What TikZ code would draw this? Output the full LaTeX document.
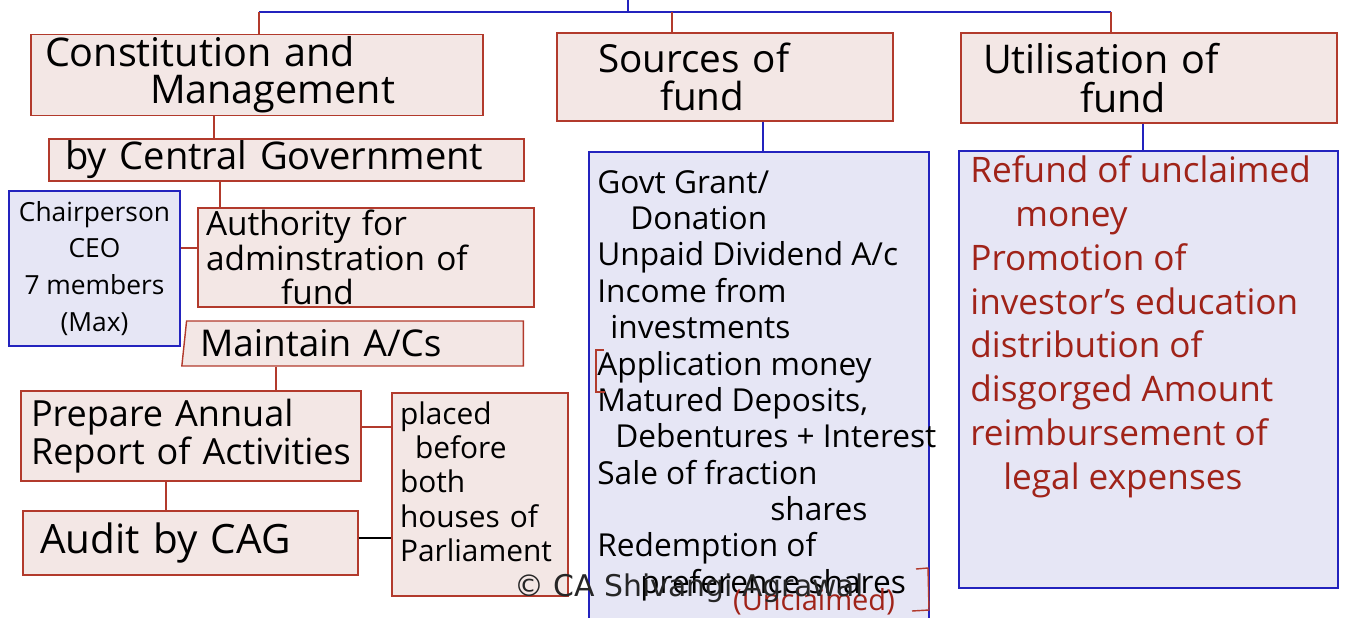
\documentclass[tikz,border=0pt]{standalone}
\usepackage{fontspec}
\usepackage{tikz}
\usepackage{xcolor}
\usetikzlibrary{positioning,shapes.geometric}
\setmainfont{Open Sans}
\newfontfamily\markfont{DejaVu Sans}
\definecolor{boxred}{RGB}{178,58,44}
\definecolor{boxpink}{RGB}{243,231,229}
\definecolor{deepblue}{RGB}{35,35,190}
\definecolor{boxlav}{RGB}{230,230,245}
\definecolor{inkred}{RGB}{160,35,25}

\begin{document}
\begin{tikzpicture}[x=0.02cm,y=-0.02cm,every node/.style={inner sep=0pt},
  pinkbox/.style={draw=boxred,fill=boxpink,line width=0.8pt},
  lavbox/.style={draw=deepblue,fill=boxlav,line width=0.8pt},
  redln/.style={draw=boxred,line width=0.8pt},
  blueln/.style={draw=deepblue,line width=0.8pt}]
\useasboundingbox (0,0) rectangle (1349,618);

\node[pinkbox,minimum width=9.04cm,minimum height=1.62cm,text width=8.48cm,align=left,font=\fontsize{22.5}{21}\selectfont] (cons) at (257,75) {Constitution and\\\hspace*{2.1cm}Management};
\node[pinkbox,minimum width=9.5cm,minimum height=0.84cm,text width=8.86cm,align=left,font=\fontsize{21.7}{22}\selectfont] (cent) at (286.5,160) {by Central Government};
\node[lavbox,minimum width=3.42cm,minimum height=3.1cm,align=center,font=\fontsize{15}{21}\selectfont] (chair) at (94.5,268.5) {Chairperson\\CEO\\7 members\\(Max)};
\node[pinkbox,minimum width=6.72cm,minimum height=1.98cm,text width=6.4cm,align=left,font=\fontsize{19}{19.5}\selectfont] (auth) at (366,257.5) {Authority for\\adminstration of\\\hspace*{1.5cm}fund};
\node[pinkbox,shape=trapezium,trapezium left angle=81,trapezium right angle=90,trapezium stretches=true,minimum width=6.84cm,minimum height=0.9cm,text width=6.2cm,align=left,font=\fontsize{21}{22}\selectfont] (maint) at (355,343.5) {Maintain A/Cs};
\node[pinkbox,minimum width=6.8cm,minimum height=1.8cm,text width=6.4cm,align=left,font=\fontsize{20.5}{21.5}\selectfont] (prep) at (191,436) {Prepare Annual\\Report of Activities};
\node[pinkbox,minimum width=6.7cm,minimum height=1.28cm,text width=6.02cm,align=left,font=\fontsize{23}{22}\selectfont] (audit) at (190.5,543) {Audit by CAG};
\node[pinkbox,minimum width=3.52cm,minimum height=4.06cm,text width=3.2cm,align=left,font=\fontsize{17}{19.6}\selectfont] (placed) at (480,494.5) {placed\\\hspace*{0.3cm}before\\both\\houses of\\Parliament\\[-0.17cm]\mbox{}};

\node[pinkbox,minimum width=6.72cm,minimum height=1.76cm,text width=5.08cm,align=left,font=\fontsize{22}{22}\selectfont] (src) at (725,77) {Sources of\\\hspace*{1.24cm}fund};
\node[lavbox,minimum width=6.8cm,minimum height=9.46cm] (srclist) at (759,388.5) {};
\node[anchor=north west,align=left,font=\fontsize{18}{20.7}\selectfont] (srctext) at (597,170) {Govt Grant/\\\hspace*{0.66cm}Donation\\Unpaid Dividend A/c\\Income from\\\hspace*{0.26cm}investments\\Application money\\Matured Deposits,\\\hspace*{0.36cm}Debentures + Interest\\Sale of fraction\\\hspace*{3.46cm}shares\\Redemption of\\\hspace*{0.86cm}preference shares};
\node[text=inkred,font=\fontsize{16.5}{18}\selectfont] (srcnote) at (814,602) {(Unclaimed)};
\draw[redln] (604,350) -- (596,350) -- (596,392) -- (605,392);
\draw[redln] (916,569) -- (928,568) -- (929,610) -- (912,611);

\node[pinkbox,minimum width=7.52cm,minimum height=1.8cm,text width=6.64cm,align=left,font=\fontsize{22.5}{22}\selectfont] (util) at (1149,78) {Utilisation of\\\hspace*{1.94cm}fund};
\node[lavbox,minimum width=7.58cm,minimum height=8.74cm] (uselist) at (1148.5,369.5) {};
\node[anchor=north west,align=left,text=inkred,font=\fontsize{20}{25}\selectfont] (usetext) at (970,155) {Refund of unclaimed\\\hspace*{0.9cm}money\\Promotion of\\investor's education\\distribution of\\disgorged Amount\\reimbursement of\\\hspace*{0.66cm}legal expenses};

\coordinate (barL) at (259,12);
\coordinate (barC) at (672,12);
\coordinate (barR) at (1111,12);
\coordinate (barT) at (628,0);
\coordinate (barM) at (628,12);
\draw[blueln] (barL) -- (barR);
\draw[blueln] (barT) -- (barM);
\draw[redln] (barL) -- (cons.north -| barL);
\draw[redln] (barC) -- (src.north -| barC);
\draw[redln] (barR) -- (util.north -| barR);
\draw[redln] (cons.south -| 214,0) -- (cent.north -| 214,0);
\draw[redln] (cent.south -| 220,0) -- (auth.north -| 220,0);
\draw[redln] (chair.east |- 0,248) -- (auth.west |- 0,248);
\draw[redln] (maint.south -| 276,0) -- (prep.north -| 276,0);
\draw[redln] (prep.south -| 166,0) -- (audit.north -| 166,0);
\draw[redln] (prep.east |- 0,427) -- (placed.west |- 0,427);
\draw[line width=0.8pt] (audit.east |- 0,538) -- (placed.west |- 0,538);
\draw[blueln] (src.south -| 763,0) -- (srclist.north -| 763,0);
\draw[blueln] (util.south -| 1143,0) -- (uselist.north -| 1143,0);

\node[font=\markfont\fontsize{17}{19}\selectfont,text=black!85] (mark) at (689,588) {© CA Shivangi Agrawal};
\end{tikzpicture}
\end{document}
